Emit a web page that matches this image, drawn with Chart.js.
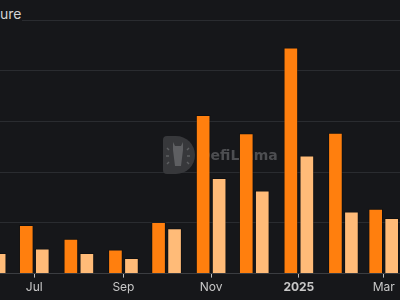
<!DOCTYPE html>
<html>
<head>
<meta charset="utf-8">
<script src="https://cdn.jsdelivr.net/npm/chart.js@4.4.0/dist/chart.umd.min.js"></script>
<style>
  html, body { margin: 0; padding: 0; background: #16171a; overflow: hidden; }
  #wrap { position: relative; width: 400px; height: 300px; }
  #title { position: absolute; left: 0; top: 5px; font: 14px "Inter", "Liberation Sans", sans-serif; color: #d4d4d4; background: #16171a; padding-right: 1px; line-height: 18px; z-index: 2; }
</style>
</head>
<body>
<div id="wrap">
  <div id="title">ure</div>
  <canvas id="c" width="400" height="300"></canvas>
</div>
<script>
// Month start (days since 2024-06-01)
const months = ['2024-06','2024-07','2024-08','2024-09','2024-10','2024-11','2024-12','2025-01','2025-02','2025-03'];
const dayOffsets = [0, 30, 61, 92, 122, 153, 183, 214, 245, 273];
const seriesA = [0.90, 0.95, 0.68, 0.47, 1.01, 3.12, 2.76, 4.45, 2.77, 1.27];
const seriesB = [0.40, 0.49, 0.40, 0.30, 0.89, 1.88, 1.63, 2.32, 1.22, 1.09];
const tickDays = [30, 92, 153, 214, 273];
const tickLabels = ['Jul', 'Sep', 'Nov', '2025', 'Mar'];

const watermark = {
  id: 'watermark',
  beforeDatasetsDraw(chart) {
    const ctx = chart.ctx;
    ctx.save();
    const x0 = 163, top = 136, bot = 174, r = (bot - top) / 2, cx = 176, cy = (top + bot) / 2;
    ctx.fillStyle = '#37383b';
    ctx.beginPath();
    ctx.moveTo(x0 + 4, top);
    ctx.lineTo(cx, top);
    ctx.arc(cx, cy, r, -Math.PI / 2, Math.PI / 2);
    ctx.lineTo(x0 + 4, bot);
    ctx.quadraticCurveTo(x0, bot, x0, bot - 4);
    ctx.lineTo(x0, top + 4);
    ctx.quadraticCurveTo(x0, top, x0 + 4, top);
    ctx.fill();
    ctx.fillStyle = '#5e5f62';
    ctx.beginPath();
    ctx.moveTo(173, 142); ctx.lineTo(175, 146); ctx.lineTo(181, 146); ctx.lineTo(183, 142);
    ctx.lineTo(183, 150); ctx.lineTo(182, 158); ctx.lineTo(181, 166); ctx.lineTo(175, 166);
    ctx.lineTo(174, 158); ctx.lineTo(173, 150); ctx.closePath();
    ctx.fill();
    ctx.strokeStyle = '#5e5f62';
    ctx.lineWidth = 1.5;
    const rays = [[167,148,169,150],[166,156,169,156],[167,164,169,162],[189,148,187,150],[190,156,187,156],[189,164,187,162]];
    rays.forEach(a => { ctx.beginPath(); ctx.moveTo(a[0], a[1]); ctx.lineTo(a[2], a[3]); ctx.stroke(); });
    ctx.fillStyle = '#4d4e51';
    ctx.font = 'bold 14px "DejaVu Sans", sans-serif';
    ctx.textBaseline = 'middle';
    ctx.fillText('DefiLlama', 199, 156);
    ctx.restore();
  }
};

new Chart(document.getElementById('c'), {
  type: 'bar',
  data: {
    datasets: [
      {
        label: 'A',
        data: dayOffsets.map((d, i) => ({ x: d, y: seriesA[i] })),
        backgroundColor: '#ff7f0e',
        borderColor: 'rgba(0,0,0,0.3)',
        borderWidth: 1,
        barThickness: 16,
        maxBarThickness: 14
      },
      {
        label: 'B',
        data: dayOffsets.map((d, i) => ({ x: d, y: seriesB[i] })),
        backgroundColor: '#ffbb78',
        borderColor: 'rgba(0,0,0,0.3)',
        borderWidth: 1,
        barThickness: 16,
        maxBarThickness: 14
      }
    ]
  },
  options: {
    responsive: false,
    animation: false,
    events: [],
    layout: { padding: { top: 20, bottom: 2, left: 0, right: 0 } },
    plugins: { legend: { display: false }, tooltip: { enabled: false }, title: { display: false } },
    scales: {
      x: {
        type: 'linear',
        offset: false,
        min: 6.15,
        max: 284.35,
        afterBuildTicks: (scale) => { scale.ticks = tickDays.map(v => ({ value: v })); },
        ticks: {
          autoSkip: false,
          maxRotation: 0,
          padding: 3,
          color: '#c8c8c8',
          font: (c) => ({ family: 'Inter, "Liberation Sans", sans-serif', size: 12, weight: (c.tick && c.tick.value === 214) ? 'bold' : 'normal' }),
          callback: (v) => { const i = tickDays.indexOf(v); return i >= 0 ? tickLabels[i] : ''; }
        },
        grid: { offset: false, drawOnChartArea: false, drawTicks: true, tickLength: 4, tickColor: '#bdbdbd', tickWidth: 1 },
        border: { display: true, color: '#3b3d41', width: 1 }
      },
      y: {
        min: 0,
        max: 5,
        ticks: { display: false, stepSize: 1 },
        grid: { color: '#2a2c30', drawTicks: false },
        border: { display: false }
      }
    }
  },
  plugins: [watermark]
});
</script>
</body>
</html>
